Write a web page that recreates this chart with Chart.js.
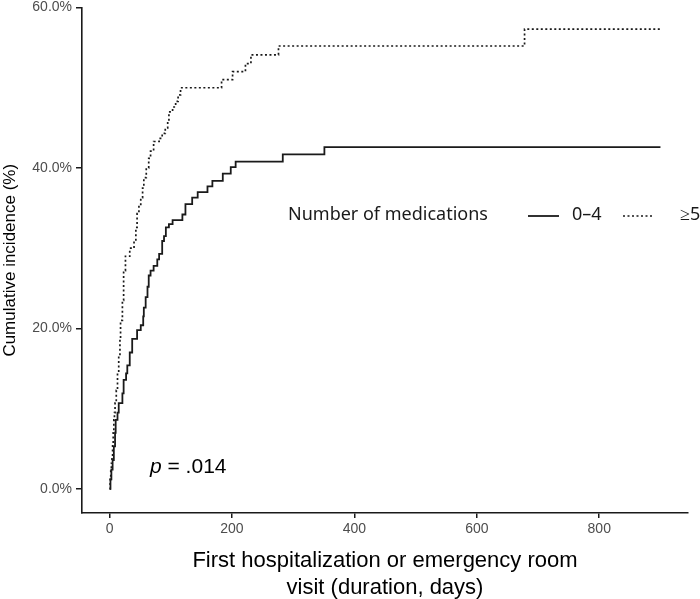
<!DOCTYPE html>
<html>
<head>
<meta charset="utf-8">
<script src="https://cdn.jsdelivr.net/npm/chart.js@4/dist/chart.umd.min.js"></script>
<style>
  html, body { margin: 0; padding: 0; background: #fff; }
  #wrap { width: 700px; height: 599px; }
</style>
</head>
<body>
<div id="wrap"><canvas id="kmChart" width="700" height="599"></canvas></div>
<script>
// event times (days) and cumulative incidence (%)
const lowDays = [0, 1.5, 3, 5, 7, 9, 10, 13, 15, 21, 23, 27, 29, 33, 37, 45, 51, 55, 56, 59, 62, 64, 67, 72, 78, 81, 86, 89, 92, 97, 103, 119, 124, 135, 144, 160, 168, 185, 198, 206, 283, 351, 900];
const lowPct = [0, 1.2, 2.4, 3.6, 5.3, 7.0, 8.6, 9.5, 10.7, 11.9, 13.6, 14.4, 15.4, 17.0, 18.7, 19.8, 20.4, 21.5, 22.6, 23.9, 25.2, 26.6, 27.2, 27.8, 28.6, 29.3, 30.9, 31.5, 32.6, 33.0, 33.5, 34.2, 35.5, 36.3, 37.0, 37.7, 38.4, 39.3, 40.1, 40.8, 41.7, 42.6, 42.6];

const highDays = [0, 1, 2, 3, 4, 5, 6, 7, 8, 9, 11, 13, 15, 17, 18, 21, 23, 26, 33, 40, 43, 45, 48, 51, 54, 56, 60, 64, 67, 72, 81, 86, 91, 95, 97, 103, 108, 112, 116, 183, 201, 222, 231, 276, 678, 900];
const highPct = [0, 1.2, 2.4, 3.2, 4.0, 5.5, 7.0, 8.6, 9.5, 10.7, 12.3, 14.4, 16.5, 18.8, 21.0, 23.5, 27.2, 29.0, 30.0, 30.9, 32.6, 34.3, 35.3, 36.3, 37.5, 38.8, 40.0, 41.2, 42.1, 43.3, 43.7, 44.3, 45.0, 45.8, 47.0, 47.6, 48.3, 49.1, 50.0, 51.0, 52.0, 53.0, 54.1, 55.2, 57.3, 57.3];

const groupLabels = ["0–4", "≥5"];
const xTicks = [0, 200, 400, 600, 800];
const yTicks = [0, 20, 40, 60];

const toPoints = (xs, ys) => xs.map((x, i) => ({ x: x, y: ys[i] }));

// legend drawn inside the plot, to the right of its title
const insideLegend = {
  id: "insideLegend",
  afterDraw(chart) {
    const ctx = chart.ctx;
    const y = 215;
    ctx.save();
    ctx.font = "18px 'Noto Sans'";
    ctx.fillStyle = "#1a1a1a";
    ctx.textBaseline = "middle";
    ctx.textAlign = "left";
    ctx.fillText("Number of medications", 288, y);
    const items = [
      { x: 528, gap: 44, ds: chart.data.datasets[0] },
      { x: 623, gap: 57, ds: chart.data.datasets[1] },
    ];
    items.forEach((it) => {
      ctx.beginPath();
      ctx.strokeStyle = it.ds.borderColor;
      ctx.lineWidth = it.ds.borderWidth;
      ctx.setLineDash(it.ds.borderDash || []);
      ctx.moveTo(it.x, y + 1);
      ctx.lineTo(it.x + 31, y + 1);
      ctx.stroke();
      ctx.setLineDash([]);
      ctx.fillText(it.ds.label, it.x + it.gap, y);
    });
    // p value
    ctx.font = "italic 21px 'Liberation Sans'";
    ctx.fillStyle = "#000";
    ctx.fillText("p", 150, 467);
    const pw = ctx.measureText("p").width;
    ctx.font = "21px 'Liberation Sans'";
    ctx.fillText(" = .014", 150 + pw, 467);
    ctx.restore();
  },
};

const ctx = document.getElementById("kmChart").getContext("2d");
const kmChart = new Chart(ctx, {
  type: "line",
  data: {
    datasets: [
      {
        label: groupLabels[0],
        data: toPoints(lowDays, lowPct),
        borderColor: "#1a1a1a",
        borderWidth: 1.8,
        stepped: true,
        pointRadius: 0,
        fill: false,
      },
      {
        label: groupLabels[1],
        data: toPoints(highDays, highPct),
        borderColor: "#1a1a1a",
        borderWidth: 1.7,
        borderDash: [2, 2.5],
        stepped: true,
        pointRadius: 0,
        fill: false,
      },
    ],
  },
  options: {
    responsive: false,
    animation: false,
    layout: { padding: { top: 0, right: 12, left: 0, bottom: 0 } },
    plugins: {
      legend: { display: false },
      tooltip: { enabled: false },
    },
    scales: {
      x: {
        type: "linear",
        min: -45,
        max: 945,
        afterBuildTicks: (s) => { s.ticks = xTicks.map((v) => ({ value: v })); },
        afterFit: (s) => { s.height = 86; },
        ticks: {
          autoSkip: false,
          maxRotation: 0,
          padding: 3,
          color: "#4d4d4d",
          font: { family: "'Liberation Sans'", size: 14 },
        },
        grid: { drawOnChartArea: false, drawTicks: true, tickLength: 5, color: "#1a1a1a", lineWidth: 1.5 },
        border: { display: true, color: "#1a1a1a", width: 1.6 },
        title: {
          display: true,
          text: ["First hospitalization or emergency room", "visit (duration, days)"],
          color: "#000",
          font: { family: "'Liberation Sans'", size: 22, lineHeight: 1.25 },
          padding: { top: 0, bottom: -3 },
        },
      },
      y: {
        min: -3,
        max: 60,
        afterBuildTicks: (s) => { s.ticks = yTicks.map((v) => ({ value: v })); },
        afterFit: (s) => { s.width = 82; },
        ticks: {
          autoSkip: false,
          padding: 4,
          color: "#4d4d4d",
          font: { family: "'Liberation Sans'", size: 14, lineHeight: 0.5 },
          callback: (v) => v.toFixed(1) + "%",
        },
        grid: { drawOnChartArea: false, drawTicks: true, tickLength: 6, color: "#1a1a1a", lineWidth: 1.5 },
        border: { display: true, color: "#1a1a1a", width: 1.6 },
        title: {
          display: true,
          text: "Cumulative incidence (%)",
          color: "#000",
          font: { family: "'Liberation Sans'", size: 17 },
          padding: { top: 0, bottom: 0 },
        },
      },
    },
  },
  plugins: [insideLegend],
});
</script>
</body>
</html>
